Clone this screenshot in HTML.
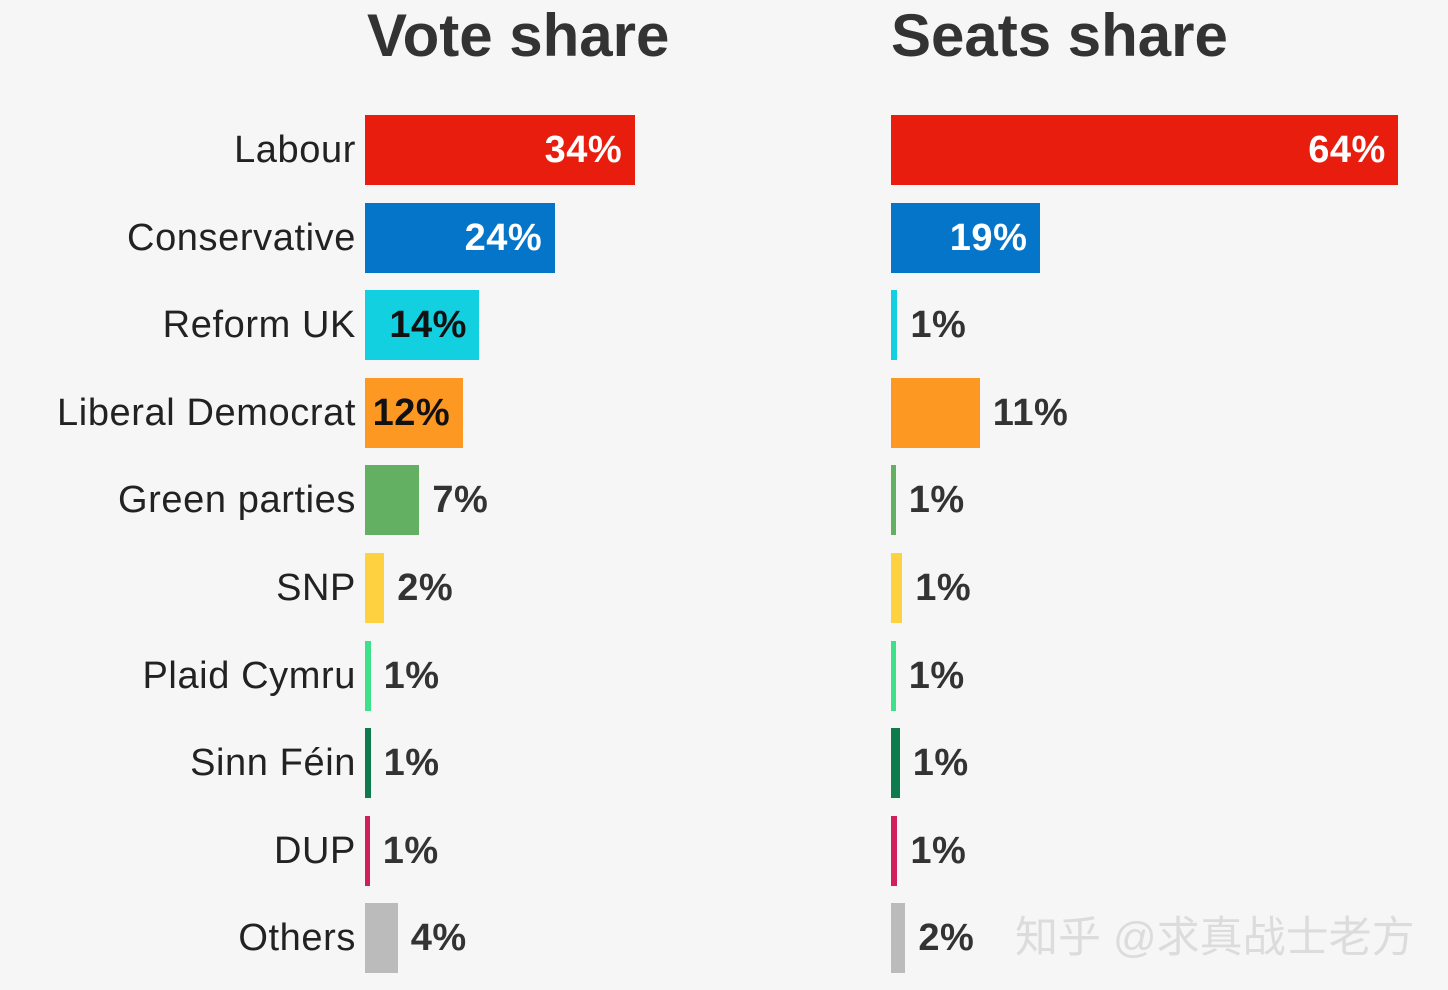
<!DOCTYPE html>
<html><head><meta charset="utf-8"><style>
html,body{margin:0;padding:0;background:#f6f6f6;}
#root{position:relative;width:1448px;height:990px;overflow:hidden;background:#f6f6f6;font-family:"Liberation Sans","Noto Sans CJK SC",sans-serif;}
.title{position:absolute;top:1px;font-size:60px;font-weight:bold;color:#333;}
.lab{position:absolute;right:1092px;font-size:38px;letter-spacing:0.6px;color:#222;white-space:nowrap;line-height:70px;}
.bar{position:absolute;height:70px;}
.val{position:absolute;font-size:38px;font-weight:bold;letter-spacing:0.5px;line-height:70px;white-space:nowrap;}
.wm{position:absolute;left:1015px;top:903px;font-size:43px;color:#dcdcdc;white-space:nowrap;}
</style></head><body>
<div id="root">
<div class="title" style="left:367px">Vote share</div>
<div class="title" style="left:891px">Seats share</div>
<div class="wm">知乎 @求真战士老方</div>
</div>
<script>
const parties=["Labour","Conservative","Reform UK","Liberal Democrat","Green parties","SNP","Plaid Cymru","Sinn Féin","DUP","Others"];
const voteValues=[33.7,23.7,14.3,12.2,6.8,2.4,0.7,0.7,0.6,4.1];
const voteLabels=["34%","24%","14%","12%","7%","2%","1%","1%","1%","4%"];
const seatValues=[63.4,18.6,0.8,11.1,0.6,1.4,0.6,1.1,0.8,1.8];
const seatLabels=["64%","19%","1%","11%","1%","1%","1%","1%","1%","2%"];
const colors=["#e91d0e","#0575c9","#12d0df","#fd9823","#63b063","#fdd13f","#3ee08a","#0f7a4c","#d21e5d","#bbbbbb"];
const textIn=["#fff","#fff","#111","#111"];
const root=document.getElementById('root');
const scale=8;
function x(v){return v*scale;}
function y(i){return 115+i*87.6;}
function slug(s){return s.toLowerCase().normalize('NFD').replace(/[^a-z ]/g,'').trim().replace(/ +/g,'-');}
parties.forEach((p,i)=>{
  const l=document.createElement('div');
  l.className='lab';l.style.top=y(i)+'px';l.textContent=p;
  
  
  root.appendChild(l);
});
function drawPanel(x0,vals,labs,prefix){
  vals.forEach((v,i)=>{
    const w=Math.max(3,x(v));
    const b=document.createElement('div');
    b.className='bar';b.style.left=x0+'px';b.style.top=y(i)+'px';b.style.width=w+'px';b.style.background=colors[i];
    
    
    root.appendChild(b);
    const t=document.createElement('div');
    t.className='val';t.style.top=y(i)+'px';t.textContent=labs[i];
    
    
    root.appendChild(t);
    const tw=t.offsetWidth;
    if(w>=tw+16){t.style.left=(x0+w-12-tw)+'px';t.style.color=textIn[i]||'#fff';}
    else{t.style.left=(x0+w+13)+'px';t.style.color='#333';}
  });
}
drawPanel(365,voteValues,voteLabels,'vote');
drawPanel(891,seatValues,seatLabels,'seats');
</script>
</body></html>
